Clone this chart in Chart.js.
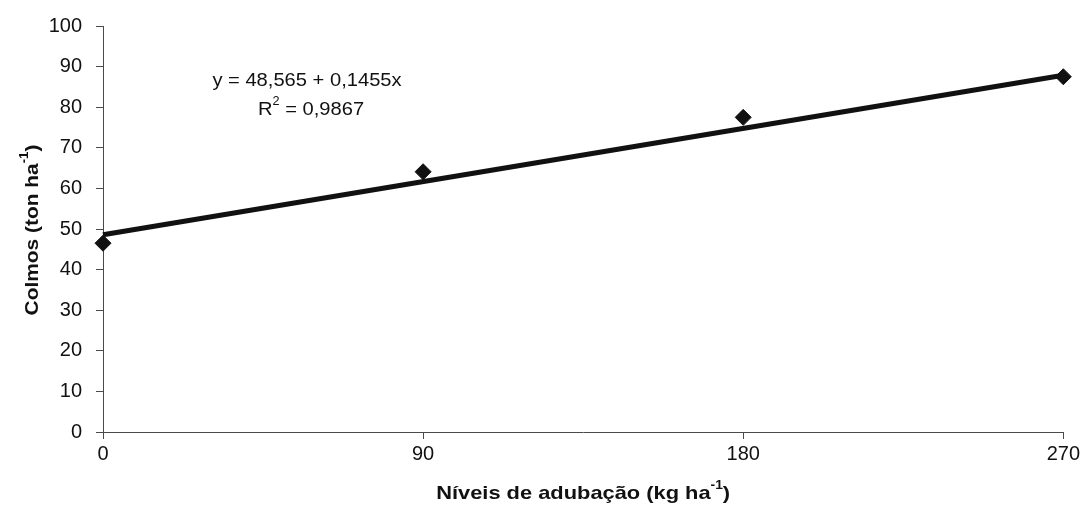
<!DOCTYPE html>
<html>
<head>
<meta charset="utf-8">
<script src="https://cdn.jsdelivr.net/npm/chart.js@4.4.1/dist/chart.umd.min.js"></script>
<style>
  html, body { margin: 0; padding: 0; background: #ffffff; }
  #wrap { position: relative; width: 1083px; height: 513px; }
</style>
</head>
<body>
<div id="wrap"><canvas id="c" width="1083" height="513"></canvas></div>
<script>
// Fertilizer levels (kg/ha) and measured stalk yield (t/ha)
const doses = [0, 90, 180, 270];
const colmos = [46.5, 64.1, 77.5, 87.5];

// Linear fit reported on the chart
const fitIntercept = 48.565;
const fitSlope = 0.1455;
const fitR2 = 0.9867;
const fitX = [0, 270];
const fitY = fitX.map(x => fitIntercept + fitSlope * x);

// Axis ticks
const xTicks = [0, 90, 180, 270];
const yTicks = [0, 10, 20, 30, 40, 50, 60, 70, 80, 90, 100];

const FONT = '"Liberation Sans", Arial, sans-serif';
const AXIS_COLOR = '#4a4a4a';
const fmt = v => v.toString().replace('.', ',');

// Draws text with a raised superscript part: parts = [[text, isSup], ...]
function drawRich(ctx, parts, cx, cy, size, weight, rotate, stretch) {
  ctx.save();
  ctx.translate(cx, cy);
  if (rotate) ctx.rotate(rotate);
  ctx.scale(stretch || 1, 1);
  const supSize = Math.round(size * 0.62);
  let total = 0;
  const widths = parts.map(([t, sup]) => {
    ctx.font = `${weight} ${sup ? supSize : size}px ${FONT}`;
    const w = ctx.measureText(t).width;
    total += w;
    return w;
  });
  let x = -total / 2;
  ctx.fillStyle = '#111';
  ctx.textBaseline = 'alphabetic';
  ctx.textAlign = 'left';
  parts.forEach(([t, sup], i) => {
    ctx.font = `${weight} ${sup ? supSize : size}px ${FONT}`;
    ctx.fillText(t, x, sup ? size * 0.35 - size * 0.5 : size * 0.35);
    x += widths[i];
  });
  ctx.restore();
}

const annotations = {
  id: 'annotations',
  afterDraw(chart) {
    const ctx = chart.ctx;
    const a = chart.chartArea;
    // regression equation
    drawRich(ctx, [[`y = ${fmt(fitIntercept)} + ${fmt(fitSlope)}x`, false]], 307, 79, 19, 'normal', 0, 1.06);
    drawRich(ctx, [['R', false], ['2', true], [` = ${fmt(fitR2)}`, false]], 311, 108, 19, 'normal', 0, 1.06);
    // axis titles
    drawRich(ctx, [['Níveis de adubação (kg ha', false], ['-1', true], [')', false]],
      (a.left + a.right) / 2, 492, 19, 'bold', 0, 1.15);
    drawRich(ctx, [['Colmos (ton ha', false], ['-1', true], [')', false]],
      31, 230, 19, 'bold', -Math.PI / 2, 1.1);
  }
};

new Chart(document.getElementById('c'), {
  type: 'line',
  data: {
    datasets: [
      {
        label: 'Colmos',
        data: doses.map((d, i) => ({ x: d, y: colmos[i] })),
        showLine: false,
        pointStyle: 'rectRot',
        pointRadius: 8,
        backgroundColor: '#111',
        borderColor: '#111',
        borderWidth: 1,
        clip: false,
        order: 1
      },
      {
        label: 'Ajuste linear',
        data: fitX.map((d, i) => ({ x: d, y: fitY[i] })),
        borderColor: '#111',
        borderWidth: 5,
        pointRadius: 0,
        tension: 0,
        clip: false,
        order: 2
      }
    ]
  },
  options: {
    responsive: false,
    animation: false,
    devicePixelRatio: 1,
    layout: { padding: { left: 0, right: 18, top: 25, bottom: 0 } },
    plugins: { legend: { display: false }, tooltip: { enabled: false } },
    scales: {
      x: {
        type: 'linear',
        min: 0,
        max: 270,
        afterBuildTicks: s => { s.ticks = xTicks.map(v => ({ value: v })); },
        afterFit: s => { s.height = 81; },
        grid: { drawOnChartArea: false, drawTicks: true, tickLength: 7, color: AXIS_COLOR },
        border: { color: AXIS_COLOR, width: 1 },
        ticks: { color: '#111', font: { family: FONT, size: 20 }, padding: 3, maxRotation: 0 }
      },
      y: {
        min: 0,
        max: 100,
        afterBuildTicks: s => { s.ticks = yTicks.map(v => ({ value: v })); },
        afterFit: s => { s.width = 103; },
        grid: { drawOnChartArea: false, drawTicks: true, tickLength: 7, color: AXIS_COLOR },
        border: { color: AXIS_COLOR, width: 1 },
        ticks: { color: '#111', font: { family: FONT, size: 20 }, padding: 14 }
      }
    }
  },
  plugins: [annotations]
});
</script>
</body>
</html>
